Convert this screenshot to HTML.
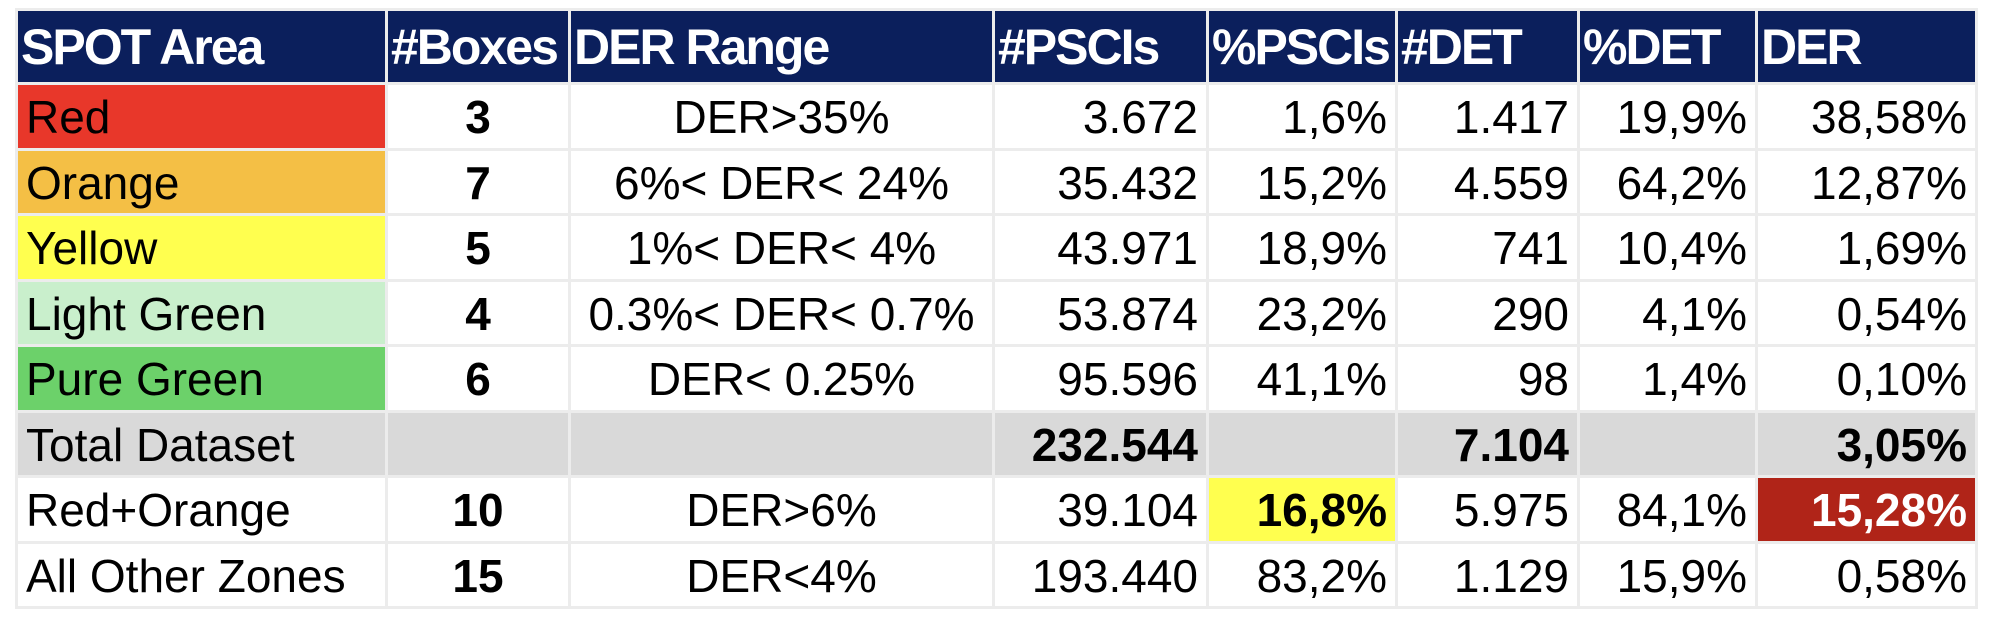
<!DOCTYPE html>
<html><head><meta charset="utf-8"><style>
html,body{margin:0;padding:0;background:#fff;width:1994px;height:622px;overflow:hidden}
table{position:absolute;left:15px;top:8px;border-collapse:separate;border-spacing:3px;table-layout:fixed;background:#ececec;
font-family:"Liberation Sans",sans-serif;font-size:46px;color:#000}
td{box-sizing:border-box;height:62.5px;padding:2px 8px 0 8px;background:#fff;white-space:nowrap;overflow:hidden;text-align:right;line-height:56px}
tr.h td{background:#0b1f5c;color:#fff;font-weight:bold;font-size:50px;height:71px;text-align:left;padding:0 3px;letter-spacing:-2px;line-height:64px}
td.l{text-align:left}
td.c{text-align:center}
td.b{font-weight:bold}
tr.g td{background:#d9d9d9}
</style></head><body>
<table>
<colgroup><col style="width:367px"><col style="width:180px"><col style="width:421px"><col style="width:211px"><col style="width:186px"><col style="width:179px"><col style="width:175px"><col style="width:217px"></colgroup>
<tr class="h"><td>SPOT Area</td><td>#Boxes</td><td>DER Range</td><td>#PSCIs</td><td>%PSCIs</td><td>#DET</td><td>%DET</td><td>DER</td></tr>
<tr><td class="l" style="background:#e8372a">Red</td><td class="c b">3</td><td class="c">DER&gt;35%</td><td>3.672</td><td>1,6%</td><td>1.417</td><td>19,9%</td><td>38,58%</td></tr>
<tr><td class="l" style="background:#f4bf45">Orange</td><td class="c b">7</td><td class="c">6%&lt; DER&lt; 24%</td><td>35.432</td><td>15,2%</td><td>4.559</td><td>64,2%</td><td>12,87%</td></tr>
<tr><td class="l" style="background:#ffff4f">Yellow</td><td class="c b">5</td><td class="c">1%&lt; DER&lt; 4%</td><td>43.971</td><td>18,9%</td><td>741</td><td>10,4%</td><td>1,69%</td></tr>
<tr><td class="l" style="background:#c9efcc">Light Green</td><td class="c b">4</td><td class="c">0.3%&lt; DER&lt; 0.7%</td><td>53.874</td><td>23,2%</td><td>290</td><td>4,1%</td><td>0,54%</td></tr>
<tr><td class="l" style="background:#6cd16a">Pure Green</td><td class="c b">6</td><td class="c">DER&lt; 0.25%</td><td>95.596</td><td>41,1%</td><td>98</td><td>1,4%</td><td>0,10%</td></tr>
<tr class="g"><td class="l">Total Dataset</td><td></td><td></td><td class="b">232.544</td><td></td><td class="b">7.104</td><td></td><td class="b">3,05%</td></tr>
<tr><td class="l">Red+Orange</td><td class="c b">10</td><td class="c">DER&gt;6%</td><td>39.104</td><td class="b" style="background:#ffff4f">16,8%</td><td>5.975</td><td>84,1%</td><td class="b" style="background:#b02418;color:#fff">15,28%</td></tr>
<tr><td class="l">All Other Zones</td><td class="c b">15</td><td class="c">DER&lt;4%</td><td>193.440</td><td>83,2%</td><td>1.129</td><td>15,9%</td><td>0,58%</td></tr>
</table>
</body></html>
